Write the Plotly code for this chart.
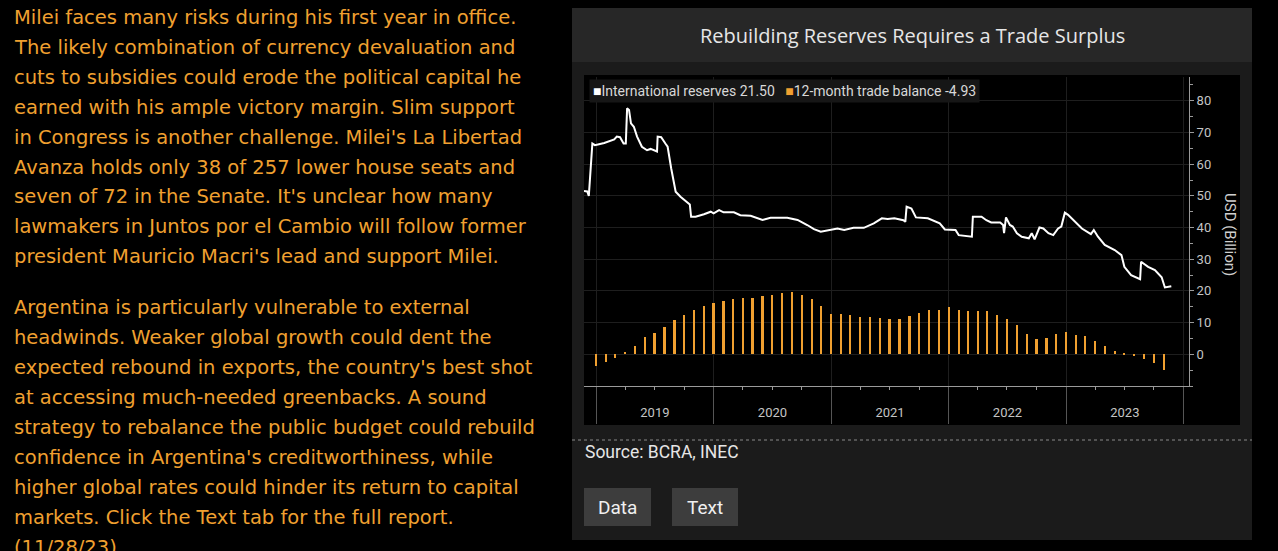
import plotly.graph_objects as go
import pandas as pd

W, H = 1278, 551

# international reserves, USD bn
res_dates = [
    "2018-11-24", "2018-12-04", "2018-12-09", "2018-12-13", "2018-12-20", "2018-12-28",
    "2019-01-26", "2019-02-26", "2019-03-06", "2019-03-16", "2019-03-27", "2019-04-03",
    "2019-04-07", "2019-04-13", "2019-04-19", "2019-04-28", "2019-05-08", "2019-05-23",
    "2019-06-08", "2019-06-19", "2019-07-01", "2019-07-09", "2019-07-11", "2019-07-22",
    "2019-08-04", "2019-08-11", "2019-08-22", "2019-08-30", "2019-09-05", "2019-09-20",
    "2019-10-04", "2019-10-19", "2019-10-23", "2019-11-06", "2019-12-02", "2019-12-23",
    "2020-01-01", "2020-01-18", "2020-02-01", "2020-03-04", "2020-03-24", "2020-04-25",
    "2020-06-01", "2020-06-26", "2020-08-17", "2020-09-18", "2020-10-18", "2020-11-08",
    "2020-11-29", "2020-12-30", "2021-01-20", "2021-02-10", "2021-03-11", "2021-04-12",
    "2021-05-13", "2021-06-07", "2021-06-25", "2021-07-16", "2021-08-02", "2021-08-13",
    "2021-08-19", "2021-08-23", "2021-09-07", "2021-09-21", "2021-10-28", "2021-11-19",
    "2021-12-04", "2021-12-20", "2022-01-22", "2022-02-01", "2022-03-14", "2022-03-17",
    "2022-04-13", "2022-04-28", "2022-05-13", "2022-06-10", "2022-06-19", "2022-06-22",
    "2022-06-28", "2022-07-10", "2022-07-19", "2022-08-01", "2022-08-16", "2022-09-07",
    "2022-09-16", "2022-09-25", "2022-10-10", "2022-10-22", "2022-11-07", "2022-11-22",
    "2022-12-07", "2022-12-17", "2022-12-28", "2023-01-07", "2023-01-28", "2023-02-19",
    "2023-03-19", "2023-03-28", "2023-04-10", "2023-05-01", "2023-06-01", "2023-06-22",
    "2023-07-01", "2023-07-22", "2023-08-19", "2023-08-22", "2023-09-13", "2023-10-04",
    "2023-10-25", "2023-11-04", "2023-11-24",
]
res_values = [
    51.5, 51.4, 50.0, 57.6, 66.5, 66.0,
    66.7, 67.8, 68.7, 68.5, 66.5, 66.5,
    77.6, 77.1, 72.9, 71.8, 68.7, 65.5,
    64.4, 64.8, 64.2, 64.0, 68.7, 68.5,
    66.5, 65.5, 58.7, 54.5, 51.3, 49.7,
    48.4, 47.3, 43.4, 43.4, 44.2, 45.0,
    44.5, 45.5, 44.8, 44.8, 43.9, 43.7,
    42.4, 43.1, 43.1, 42.4, 40.8, 39.5,
    38.7, 39.2, 39.7, 39.2, 39.9, 39.9,
    41.3, 42.9, 42.7, 42.9, 42.6, 42.3,
    41.8, 46.6, 46.0, 43.2, 42.9, 42.0,
    41.3, 39.4, 39.2, 37.6, 37.1, 43.4,
    43.4, 42.3, 41.6, 41.6, 40.8, 38.2,
    43.2, 40.8, 40.3, 38.2, 37.1, 36.6,
    38.2, 36.3, 40.0, 39.7, 38.2, 37.6,
    39.7, 40.3, 44.7, 44.0, 41.8, 39.7,
    37.9, 39.2, 37.1, 34.5, 32.9, 31.3,
    27.6, 25.0, 23.7, 29.2, 27.6, 26.6,
    24.3, 21.1, 21.5,
]

# 12-month trade balance, USD bn, monthly Jan 2019 - Nov 2023
trade_months = pd.date_range("2019-01-01", periods=59, freq="MS")
trade_values = [
    -3.8, -2.4, -1.2, 0.7, 2.7, 5.5, 6.8, 8.7, 10.8, 12.3, 13.9, 15.2,
    16.1, 16.8, 17.4, 17.7, 17.9, 18.4, 18.8, 19.3, 19.7, 18.6, 17.4, 15.2,
    12.7, 12.7, 12.4, 11.8, 11.9, 11.5, 11.1, 11.2, 12.1, 13.1, 14.0, 14.0,
    14.9, 14.0, 13.8, 13.8, 13.6, 12.5, 11.2, 9.2, 6.4, 4.9, 5.3, 6.4,
    7.1, 6.2, 5.7, 4.3, 2.5, 1.2, 0.3, -0.3, -1.4, -2.6, -4.93,
]

y_ticks = [0, 10, 20, 30, 40, 50, 60, 70, 80]

para1 = [
    "Milei faces many risks during his first year in office.",
    "The likely combination of currency devaluation and",
    "cuts to subsidies could erode the political capital he",
    "earned with his ample victory margin. Slim support",
    "in Congress is another challenge. Milei's La Libertad",
    "Avanza holds only 38 of 257 lower house seats and",
    "seven of 72 in the Senate. It's unclear how many",
    "lawmakers in Juntos por el Cambio will follow former",
    "president Mauricio Macri's lead and support Milei.",
]
para2 = [
    "Argentina is particularly vulnerable to external",
    "headwinds. Weaker global growth could dent the",
    "expected rebound in exports, the country's best shot",
    "at accessing much-needed greenbacks. A sound",
    "strategy to rebalance the public budget could rebuild",
    "confidence in Argentina's creditworthiness, while",
    "higher global rates could hinder its return to capital",
    "markets. Click the Text tab for the full report.",
    "(11/28/23)",
]

ORANGE = "#f0a030"


def px(x):
    return x / W


def py(y):
    return 1 - y / H


fig = go.Figure()
fig.add_bar(x=trade_months, y=trade_values, xaxis="x2", marker_color=ORANGE,
            marker_line_width=0, width=7 * 86400000, name="12-month trade balance")
fig.add_scatter(x=res_dates, y=res_values, mode="lines", line=dict(color="white", width=2),
                name="International reserves")

shapes = [
    dict(type="rect", xref="paper", yref="paper", x0=px(572), x1=px(1252), y0=py(540), y1=py(8),
         fillcolor="#1b1b1b", line_width=0, layer="below"),
    dict(type="rect", xref="paper", yref="paper", x0=px(572), x1=px(1252), y0=py(62), y1=py(8),
         fillcolor="#272727", line_width=0, layer="below"),
    dict(type="rect", xref="paper", yref="paper", x0=px(584), x1=px(1240), y0=py(425), y1=py(75),
         fillcolor="black", line_width=0, layer="below"),
    dict(type="line", xref="paper", yref="paper", x0=px(572), x1=px(1252), y0=py(440), y1=py(440),
         line=dict(color="#8a8a8a", width=1, dash="dot")),
    dict(type="rect", xref="paper", yref="paper", x0=px(584), x1=px(651), y0=py(526), y1=py(488),
         fillcolor="#3d3d3d", line_width=0),
    dict(type="rect", xref="paper", yref="paper", x0=px(672), x1=px(738), y0=py(526), y1=py(488),
         fillcolor="#3d3d3d", line_width=0),
]

ann = []
for i, t in enumerate(para1):
    ann.append(dict(text=t, x=px(12), y=py(18 + i * 29.8)))
for i, t in enumerate(para2):
    ann.append(dict(text=t, x=px(12), y=py(307 + i * 30)))
for a in ann:
    a.update(xref="paper", yref="paper", xanchor="left", yanchor="middle", showarrow=False,
             font=dict(family="DejaVu Sans", size=19.5, color=ORANGE))

legend_text = (f"<span style='color:white'>■</span>International reserves {res_values[-1]:.2f}"
               f"   <span style='color:{ORANGE}'>■</span>12-month trade balance {trade_values[-1]:.2f}")
ann += [
    dict(text="Rebuilding Reserves Requires a Trade Surplus", x=px(912), y=py(35), xanchor="center",
         font=dict(family="Open Sans", size=20, color="#e6e6e6")),
    dict(text=legend_text, x=px(589), y=py(91), xanchor="left", bgcolor="#161616", borderpad=3,
         font=dict(family="Roboto", size=14, color="#d8d8d8")),
    dict(text="USD (Billion)", x=px(1230), y=py(234), xanchor="center", textangle=90,
         font=dict(family="Roboto", size=15, color="#d0d0d0")),
    dict(text="Source: BCRA, INEC", x=px(583), y=py(452), xanchor="left",
         font=dict(family="Roboto", size=17.5, color="#e6e6e6")),
    dict(text="Data", x=px(617.5), y=py(507), xanchor="center",
         font=dict(family="Roboto", size=19, color="#f0f0f0")),
    dict(text="Text", x=px(705), y=py(507), xanchor="center",
         font=dict(family="Roboto", size=19, color="#f0f0f0")),
]
for a in ann[len(para1) + len(para2):]:
    a.update(xref="paper", yref="paper", yanchor="middle", showarrow=False)

x_range = ["2018-11-24", "2024-01-18"]
tick_font = dict(family="Roboto", size=13, color="#c4c4c4")

fig.update_layout(
    width=W, height=H,
    margin=dict(l=0, r=0, t=0, b=0),
    paper_bgcolor="black", plot_bgcolor="black",
    showlegend=False, bargap=0,
    shapes=shapes, annotations=ann,
    xaxis=dict(domain=[px(584), px(1189)], range=x_range, type="date",
               dtick="M12", tick0="2019-01-01", tickformat="%Y", ticklabelmode="period",
               ticks="outside", ticklen=3, tickcolor="#9a9a9a", ticklabelstandoff=11,
               minor=dict(dtick="M3", ticks="outside", ticklen=3, tickcolor="#9a9a9a", showgrid=False),
               showline=True, linecolor="#9a9a9a", linewidth=1,
               showgrid=True, gridcolor="#1e1e1e", gridwidth=1,
               tickfont=tick_font, zeroline=False),
    xaxis2=dict(overlaying="x", matches="x", anchor="y", side="bottom", type="date",
                dtick="M12", tick0="2019-01-01", ticks="outside", ticklen=37, tickcolor="#555555",
                showticklabels=False, showgrid=False, showline=False, zeroline=False),
    yaxis=dict(domain=[py(386), py(77)], range=[-10, 87.5], side="right", anchor="x",
               tickvals=y_ticks, ticks="outside", ticklen=4, tickcolor="#9a9a9a",
               minor=dict(dtick=5, tick0=0, ticks="outside", ticklen=3, tickcolor="#9a9a9a", showgrid=False),
               showline=True, linecolor="#9a9a9a", linewidth=1,
               showgrid=True, gridcolor="#1e1e1e", gridwidth=1,
               tickfont=tick_font, zeroline=False),
)

fig.write_html("out.html", config={"displayModeBar": False},
               post_script="document.body.style.margin='0';document.body.style.overflow='hidden';")
